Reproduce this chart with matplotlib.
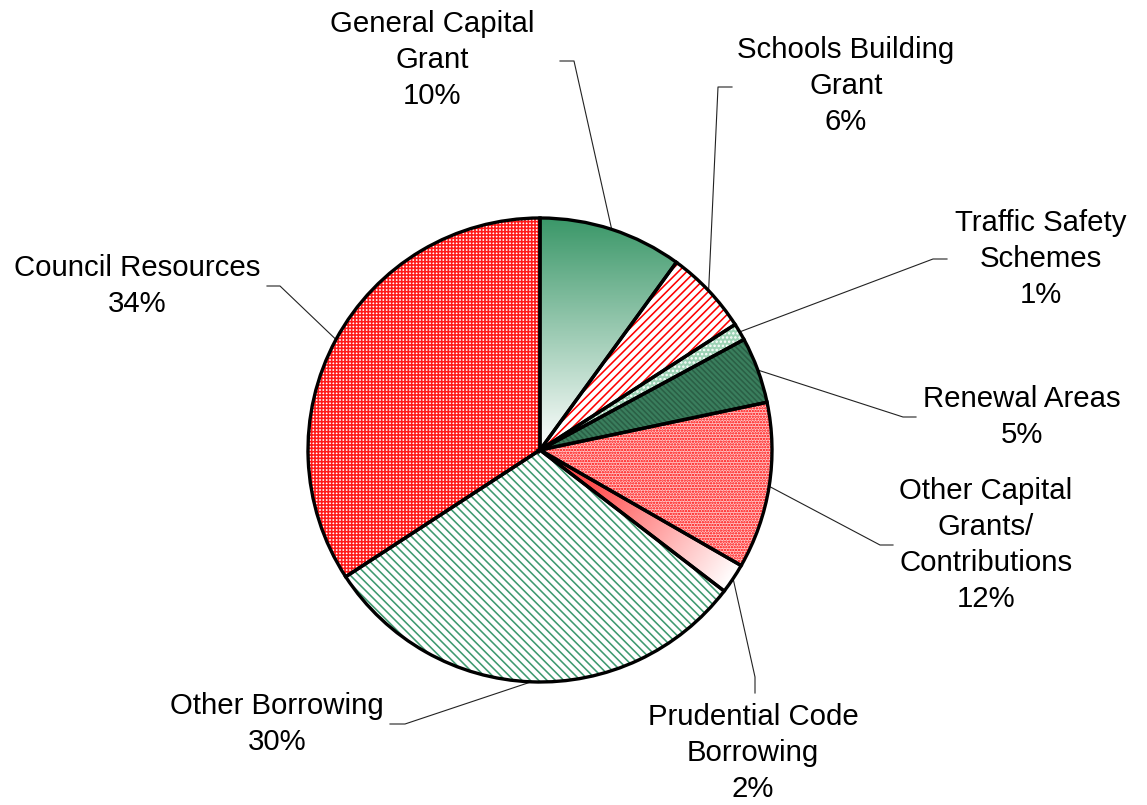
import numpy as np
import matplotlib.pyplot as plt
from matplotlib.colors import LinearSegmentedColormap

plt.rcParams['font.family'] = ['Liberation Sans', 'DejaVu Sans']
plt.rcParams['hatch.linewidth'] = 1.15

# capital financing sources, clockwise from 12 o'clock
sources = ['General Capital\nGrant', 'Schools Building\nGrant', 'Traffic Safety\nSchemes',
           'Renewal Areas', 'Other Capital\nGrants/\nContributions', 'Prudential Code\nBorrowing',
           'Other Borrowing', 'Council Resources']
shares = [10.0, 5.9, 1.2, 4.6, 11.6, 2.1, 30.4, 34.2]

W, H = 1147, 805
cx, cy, R = 540, H - 450, 232

# fill style per slice: ('grad', start colour, end colour, mode) or ('hatch', face, hatch colour, pattern)
styles = [
    ('grad', '#3a9768', '#ffffff', 'vertical'),
    ('hatch', '#ffffff', '#ff0000', '////'),
    ('hatch', '#9ed3b6', '#ffffff', '....'),
    ('hatch', '#3a7e5d', '#2a5f45', '\\' * 6),
    ('hatch', '#ffc8c8', '#ff0000', '......'),
    ('grad', '#ff4d4d', '#ffffff', 'radial'),
    ('hatch', '#ffffff', '#3f9a70', '\\' * 4),
    ('hatch', '#ffffff', '#ff1a1a', '+' * 5),
]

# label block centre and leader knee (pixels from top-left), tick direction
label_pos = [(432, 60), (846, 86), (1041, 259), (1022, 417), (986, 545), (753, 753), (277, 724), (137, 286)]
knees = [(574, 61, -14), (718, 87, 14), (933, 259, 14), (903, 417, 13), (880, 545, 13),
         (755, 677, None), (405, 724, -15), (280, 286, -13)]

fig = plt.figure(figsize=(W / 100, H / 100), dpi=100)
ax = fig.add_axes([0, 0, 1, 1])

wedges, _ = ax.pie(shares, startangle=90, counterclock=False, center=(cx, cy), radius=R,
                   wedgeprops=dict(linewidth=0))

for w, st in zip(wedges, styles):
    if st[0] == 'hatch':
        w.set_facecolor(st[1])
        w.set_edgecolor(st[2])
        w.set_hatch(st[3])
        w.set_linewidth(0)
    else:
        w.set_facecolor('none')
        w.set_linewidth(0)
        ext = w.get_path().get_extents()
        xs = np.linspace(ext.x0, ext.x1, 200)
        ys = np.linspace(ext.y0, ext.y1, 200)
        X, Y = np.meshgrid(xs, ys)
        if st[3] == 'vertical':
            t = (ext.y1 - Y) / (ext.y1 - ext.y0)
        else:
            mid = np.deg2rad((w.theta1 + w.theta2) / 2)
            t = ((X - cx) * np.cos(mid) + (Y - cy) * np.sin(mid)) / R
            t = np.clip((t - 0.25) / 0.75, 0, 1)
        cmap = LinearSegmentedColormap.from_list('g', [st[1], st[2]])
        im = ax.imshow(t, extent=[ext.x0, ext.x1, ext.y0, ext.y1], origin='lower',
                       cmap=cmap, vmin=0, vmax=1, aspect='auto', zorder=w.get_zorder() + 0.1)
        im.set_clip_path(w)

# black outlines on top
ax.pie(shares, startangle=90, counterclock=False, center=(cx, cy), radius=R,
       wedgeprops=dict(fill=False, edgecolor='black', linewidth=2.4, zorder=5))

for w, name, v, (lx, ly), (kx, ky, tick) in zip(wedges, sources, shares, label_pos, knees):
    mid = np.deg2rad((w.theta1 + w.theta2) / 2)
    sx, sy = cx + R * np.cos(mid), cy + R * np.sin(mid)
    if tick is None:
        px = [sx, kx, kx]
        py = [sy, H - ky, H - ky - 16]
    else:
        px = [sx, kx, kx + tick]
        py = [sy, H - ky, H - ky]
    ax.plot(px, py, color='#222222', linewidth=0.8, zorder=4)
    ax.text(lx, H - ly, f'{name}\n{v:.0f}%', ha='center', va='center', fontsize=21.2,
            linespacing=1.35, color='black')

ax.set_xlim(0, W)
ax.set_ylim(0, H)
ax.set_aspect('auto')
ax.axis('off')

fig.savefig('out.png', dpi=100)
